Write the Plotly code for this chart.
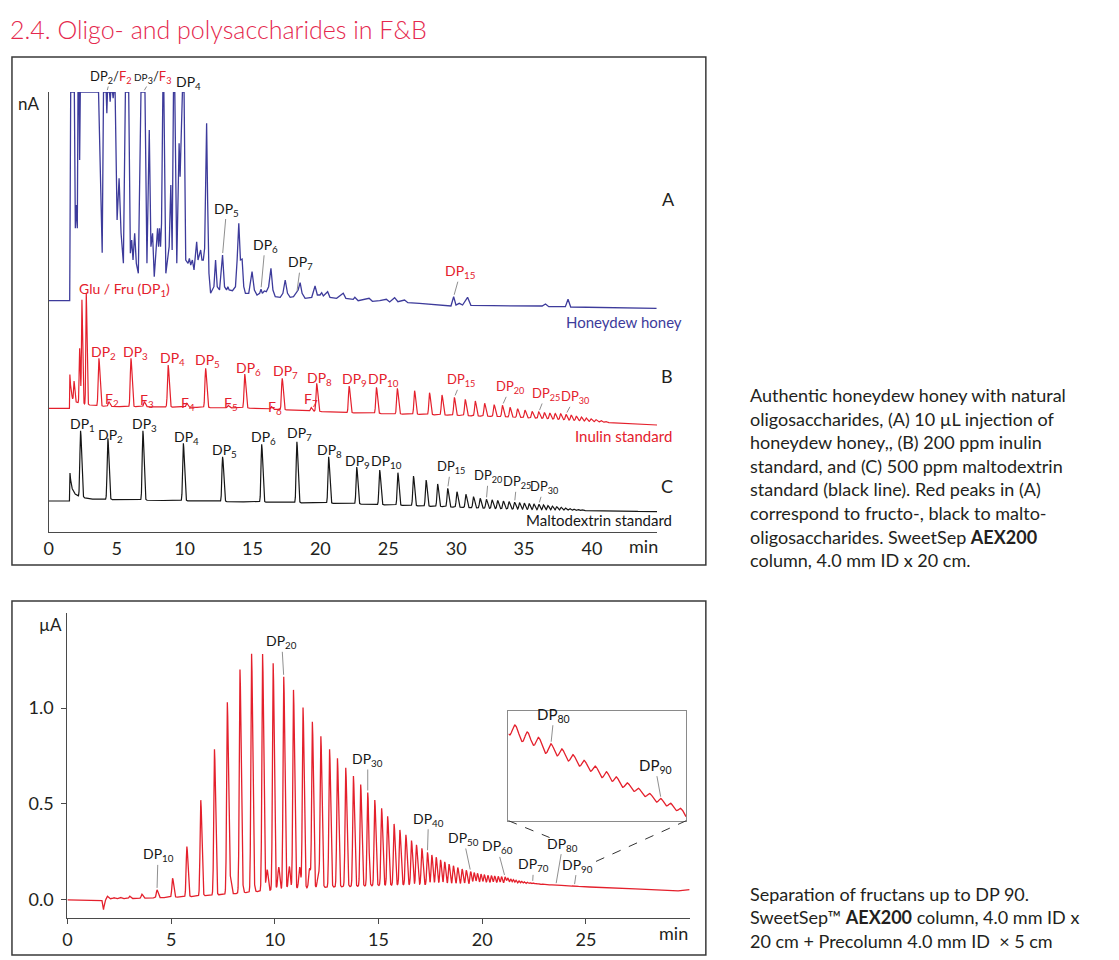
import numpy as np
import plotly.graph_objects as go

W, H = 1119, 960
FONT = "Lato"
BLUE = "#3d3b9b"
RED = "#e4202c"
BLACK = "#161616"
TITLE_RED = "#e5284e"
TEXT = "#231f20"
GREY = "#8f8f8f"

# ------------------------------------------------------------------ data
# (A) honeydew honey - digitised trace (time in min, signal in a.u.; detector clips at 440)
honey = [(0.0, 231.3), (1.539, 231.3), (1.612, 440), (1.880, 440), (1.954, 303.7), (2.027, 327),
         (2.100, 303.7), (2.149, 440), (2.222, 440), (2.271, 372), (2.320, 440), (3.663, 440),
         (3.932, 279.3), (4.029, 440), (4.225, 440), (4.274, 418.7), (4.322, 440), (4.469, 440),
         (4.518, 430.3), (4.567, 440), (4.689, 440), (4.738, 433.7), (4.786, 440), (4.884, 440),
         (5.030, 312), (5.177, 353.7), (5.323, 298.7), (5.494, 268.7), (5.641, 440), (5.885, 440),
         (6.007, 278.7), (6.105, 292), (6.203, 272), (6.325, 298.7), (6.447, 268.7), (6.594, 258.7),
         (6.789, 440), (7.082, 440), (7.228, 268.7), (7.399, 402), (7.521, 285.3), (7.643, 298.7),
         (7.766, 255.3), (8.010, 303.7), (8.083, 285.3), (8.156, 303.7), (8.230, 285.3), (8.303, 308.7),
         (8.400, 440), (8.474, 440), (8.620, 258.7), (8.865, 285.3), (8.987, 347), (9.084, 282),
         (9.182, 440), (9.280, 440), (9.426, 268.7), (9.524, 338.7), (9.597, 388.7), (9.670, 355.3),
         (9.744, 400.3), (9.841, 440), (9.963, 440), (10.085, 272), (10.256, 268.7), (10.354, 273.7),
         (10.452, 267), (10.574, 272), (10.696, 262), (10.891, 290.3), (10.989, 272), (11.087, 277),
         (11.184, 282), (11.282, 272), (11.380, 272), (11.477, 283.7), (11.551, 338.7), (11.624, 408.7),
         (11.697, 332), (11.795, 258.7), (11.917, 238.7), (12.161, 245.3), (12.283, 272), (12.405, 245.3),
         (12.576, 242), (12.796, 277), (12.943, 245.3), (13.089, 242), (13.187, 245.3), (13.284, 242),
         (13.529, 241.3), (13.748, 245.3), (13.870, 272), (13.993, 308.7), (14.115, 272), (14.237, 273),
         (14.359, 245.3), (14.481, 238.7), (14.725, 238.7), (14.970, 260.3), (15.141, 242), (15.336, 237),
         (15.531, 238.7), (15.629, 242.7), (15.727, 238.7), (15.873, 241), (16.020, 240.3), (16.190, 245.3),
         (16.362, 263.7), (16.508, 242), (16.679, 235.3), (17.045, 234.7), (17.241, 238.7), (17.411, 252),
         (17.582, 238.7), (17.778, 234.7), (18.022, 235.3), (18.266, 239.3), (18.364, 242), (18.510, 249.3),
         (18.657, 238.7), (18.877, 233.7), (19.365, 234.7), (19.609, 246), (19.780, 237), (19.976, 237),
         (20.098, 239.3), (20.220, 236), (20.537, 240.3), (20.708, 234.7), (21.197, 233.7), (21.685, 238.7),
         (21.880, 233.7), (22.418, 232.7), (22.540, 234.7), (22.784, 231.3), (23.590, 233.7), (23.834, 230.7),
         (24.371, 231.3), (24.860, 232.7), (25.104, 230), (25.470, 234.3), (25.714, 230.3), (26.200, 232),
         (26.447, 229.3), (27.302, 228.7), (28.034, 228), (28.767, 227), (29.620, 226), (29.817, 235.3),
         (29.988, 227), (30.232, 228.7), (30.476, 227), (30.843, 234.7), (31.087, 226.7), (32.674, 226.3),
         (36.337, 226), (36.581, 228), (36.825, 225.3), (38.046, 225.3), (38.242, 232.7), (38.437, 225),
         (40.000, 224.7), (44.762, 223.7)]

# (B) inulin standard - peak apexes (min, a.u.) and baseline
inulin_dp = list(range(2, 39))
inulin_dp_t = [3.69, 6.05, 8.79, 11.55, 14.43, 17.19, 19.73, 22.12, 24.13, 25.67, 26.94, 28.04, 28.96,
               29.87, 30.67, 31.41, 32.10, 32.80, 33.41, 33.97, 34.53, 35.07, 35.60, 36.09, 36.50, 36.90,
               37.30, 37.70, 38.09, 38.47, 38.85, 39.22, 39.58, 39.94, 40.30, 40.65, 41.00]
inulin_dp_top = [173.7, 173.7, 167, 163.7, 158, 153.7, 148.7, 146, 144.7, 143.7, 141.3, 139.3, 137,
                 134.7, 132.7, 131, 128.7, 127.3, 126.7, 124.7, 123.3, 122, 120.7, 120, 119.5, 119,
                 118.5, 118.2, 117.7, 117, 116, 115, 114, 113.2, 112.4, 111.6, 110.8]
inulin_f_t = [4.42, 7.03, 10.16, 13.21, 16.39, 19.32]          # F2 ... F7
inulin_f_top = [130.3, 130.3, 128.7, 126.5, 125.5, 124.5]
inulin_mono_t = [1.86, 2.27, 2.44, 2.76]                       # Glu / Fru region
inulin_mono_top = [151, 183.7, 232, 239]
inulin_base_t = [0, 1.52, 1.55, 1.62, 1.75, 2.0, 2.2, 3.0, 3.5, 5, 7, 14.5, 21.7, 29.0, 33.4, 36.1, 38.1, 40.0, 44.8]
inulin_base_v = [123.7, 123.7, 158, 143, 133, 130, 129, 127, 126, 125.3, 125.3, 124, 119.3, 117, 115.3,
                 113.7, 112, 110.3, 107]

# (C) maltodextrin standard
malto_dp = list(range(1, 41))
malto_t = [2.34, 4.35, 6.93, 9.91, 12.80, 15.68, 18.27, 20.61, 22.68, 24.37, 25.71, 26.86, 27.79, 28.64,
           29.38, 30.06, 30.72, 31.28, 31.77, 32.23, 32.65, 33.06, 33.48, 33.90, 34.31, 34.67, 35.02,
           35.38, 35.73, 36.09, 36.43, 36.76, 37.09, 37.41, 37.73, 38.04, 38.35, 38.65, 38.95, 39.25]
malto_top = [101.3, 93.7, 101.3, 88.7, 75.3, 87.7, 90.3, 75.3, 65, 62, 59.3, 56, 52, 48, 43.7, 40.3,
             37.7, 35.3, 33.7, 32.7, 32.1, 31.5, 30.9, 30.3, 29.7, 29.3, 28.9, 28.5, 28.1, 27.7, 27.1,
             26.5, 25.9, 25.3, 24.7, 24.1, 23.6, 23.1, 22.7, 22.4]
malto_base_t = [0, 1.52, 1.56, 1.65, 1.85, 2.2, 3.0, 6.0, 10.7, 21.7, 29.0, 32.2, 36.1, 44.8]
malto_base_v = [31, 31, 59, 46, 39, 35.5, 33, 32, 31, 28.5, 25.3, 23.7, 22, 20.3]

# Fructans up to DP 90 (µA): peak times (min) and heights above baseline
fructan_dp = list(range(5, 93))
fructan_t = [1.92, 2.24, 2.56, 3.00, 3.59, 4.32,
             5.07, 5.76, 6.43, 7.09, 7.71, 8.32, 8.88, 9.41, 9.92, 10.43,
             10.90, 11.36, 11.81, 12.22, 12.64, 13.02, 13.42, 13.79, 14.14, 14.48,
             14.82, 15.15, 15.44, 15.75, 16.03, 16.32, 16.59, 16.83, 17.09, 17.36,
             17.57, 17.78, 17.99, 18.19, 18.40, 18.61, 18.82, 19.03, 19.23, 19.44,
             19.61, 19.77, 19.94, 20.10, 20.27, 20.44, 20.60, 20.77, 20.93, 21.10,
             21.23, 21.37, 21.50, 21.63, 21.77, 21.90, 22.03, 22.17, 22.30, 22.43,
             22.55, 22.67, 22.79, 22.91, 23.03, 23.15, 23.26, 23.36, 23.45, 23.55,
             23.64, 23.73, 23.82, 23.91, 24.00, 24.08, 24.17, 24.26, 24.35, 24.44, 24.52, 24.60]
fructan_h = [0.014, 0.006, 0.007, 0.013, 0.021, 0.041,
             0.099, 0.261, 0.499, 0.760, 1.000, 1.163, 1.240, 1.235, 1.182, 1.108,
             1.037, 0.942, 0.865, 0.787, 0.719, 0.670, 0.619, 0.575, 0.530, 0.487,
             0.446, 0.402, 0.360, 0.319, 0.287, 0.261, 0.231, 0.209, 0.191, 0.170,
             0.156, 0.144, 0.130, 0.120, 0.108, 0.099, 0.090, 0.082, 0.075, 0.069,
             0.063, 0.059, 0.055, 0.052, 0.049, 0.047, 0.045, 0.043, 0.041, 0.040,
             0.034, 0.029, 0.025, 0.022, 0.019, 0.016, 0.014, 0.012, 0.010, 0.009,
             0.0075, 0.0062, 0.0050, 0.0040, 0.0032, 0.0026, 0.0022, 0.0020, 0.0019, 0.0018,
             0.0017, 0.0016, 0.0015, 0.0014, 0.0013, 0.0012, 0.0011, 0.0010, 0.00095, 0.0009, 0.00085, 0.0008]
shoulder_t = [7.86, 8.43, 8.99, 9.63, 10.19, 10.70, 11.20, 11.68, 12.10]
shoulder_h = [0.08, 0.04, 0.03, 0.11, 0.118, 0.118, 0.112, 0.103, 0.08]
fructan_base_t = [0, 1.66, 1.74, 1.80, 1.9, 3.0, 4.5, 6.0, 7.0, 8.0, 9.0, 10.0, 11.0, 12.0, 13.0, 14.5,
                  16.0, 21.5, 22.4, 23.5, 24.5, 25.5, 27.5, 29.4, 30.0]
fructan_base_v = [0, 0, -0.05, -0.005, 0.006, 0.007, 0.012, 0.018, 0.025, 0.032, 0.042, 0.052, 0.058,
                  0.063, 0.068, 0.073, 0.078, 0.080, 0.080, 0.0755, 0.071, 0.066, 0.057, 0.047, 0.054]

# ------------------------------------------------------------------ helpers
def peaks(t, pk_t, pk_h, smax, asym=(0.85, 1.25)):
    pk_t = np.asarray(pk_t, float)
    pk_h = np.asarray(pk_h, float)
    if len(pk_t) > 1:
        d = np.diff(pk_t)
        sp = np.minimum(np.r_[d[0], d], np.r_[d, d[-1]])
        s = np.minimum(smax, 0.3 * sp)
    else:
        s = np.full(len(pk_t), smax)
    out = np.zeros_like(t)
    for ti, hi, si in zip(pk_t, pk_h, s):
        dt = t - ti
        m = np.abs(dt) < 10 * si
        sg = np.where(dt[m] < 0, si * asym[0], si * asym[1])
        out[m] += hi * np.exp(-0.5 * (dt[m] / sg) ** 2)
    return out


def apex_peaks(t, pk_t, pk_top, bt, bv, smax):
    h = np.asarray(pk_top, float) - np.interp(pk_t, bt, bv)
    return peaks(t, pk_t, h, smax)


def P(x):
    return x / W


def Q(y):
    return 1 - y / H


# ------------------------------------------------------------------ curves
tg = np.arange(0, 44.8, 0.004)
honey_t = [p[0] for p in honey]
honey_v = [p[1] for p in honey]
inulin = (np.interp(tg, inulin_base_t, inulin_base_v)
          + apex_peaks(tg, inulin_dp_t, inulin_dp_top, inulin_base_t, inulin_base_v, 0.06)
          + apex_peaks(tg, inulin_f_t, inulin_f_top, inulin_base_t, inulin_base_v, 0.06)
          + apex_peaks(tg, inulin_mono_t, inulin_mono_top, inulin_base_t, inulin_base_v, 0.04))
malto = (np.interp(tg, malto_base_t, malto_base_v)
         + apex_peaks(tg, malto_t, malto_top, malto_base_t, malto_base_v, 0.06))

tb = np.arange(0, 30.0001, 0.002)
fructan = (np.interp(tb, fructan_base_t, fructan_base_v)
           + peaks(tb, fructan_t, fructan_h, 0.04)
           + peaks(tb, shoulder_t, shoulder_h, 0.045, asym=(1, 1)))

ix0, ix1 = 23.206, 24.644
win = (tb >= ix0) & (tb <= ix1)
ymin, ymax = fructan[win].min(), fructan[win].max()
span = ymax - ymin
inset_range = [ymin - 0.044 * span, ymax + 0.153 * span]

fig = go.Figure()
fig.add_trace(go.Scatter(x=honey_t, y=honey_v, mode="lines", line=dict(color=BLUE, width=1.3),
                         xaxis="x", yaxis="y", hoverinfo="skip"))
fig.add_trace(go.Scatter(x=tg, y=inulin, mode="lines", line=dict(color=RED, width=1.2),
                         xaxis="x", yaxis="y", hoverinfo="skip"))
fig.add_trace(go.Scatter(x=tg, y=malto, mode="lines", line=dict(color=BLACK, width=1.2),
                         xaxis="x", yaxis="y", hoverinfo="skip"))
fig.add_trace(go.Scatter(x=tb, y=fructan, mode="lines", line=dict(color=RED, width=1.3),
                         xaxis="x2", yaxis="y2", hoverinfo="skip"))
fig.add_trace(go.Scatter(x=tb[win], y=fructan[win], mode="lines", line=dict(color=RED, width=1.3),
                         xaxis="x3", yaxis="y3", hoverinfo="skip"))

AX = dict(showgrid=False, zeroline=False, showline=True, linecolor="#4a4a4a", linewidth=1.3,
          tickfont=dict(family=FONT, size=18, color=TEXT))

annotations = []


def txt(text, x, y, size=14, color=BLACK, xanchor="center", **kw):
    annotations.append(dict(text=text, x=P(x), y=Q(y), xref="paper", yref="paper", showarrow=False,
                            xanchor=xanchor, yanchor="middle",
                            font=dict(family=FONT, size=size, color=color, **kw)))


def lead(text, x, y, ax, ay, xr="x", yr="y", size=14, color=BLACK):
    annotations.append(dict(text=text, x=x, y=y, xref=xr, yref=yr, ax=ax, ay=ay, showarrow=True,
                            arrowhead=0, arrowwidth=1, arrowcolor=GREY, standoff=2, borderpad=0,
                            font=dict(family=FONT, size=size, color=color)))


def at(tt, vv, x):
    return float(np.interp(x, tt, vv))


def sub(n):
    return "DP<sub>%d</sub>" % n


# title and captions
txt("2.4. Oligo- and polysaccharides in F&B", 3, 29, size=25, color=TITLE_RED, xanchor="left", weight=300)
cap1 = ["Authentic honeydew honey with natural",
        "oligosaccharides, (A) 10 µL injection of",
        "honeydew honey,, (B) 200 ppm inulin",
        "standard, and (C) 500 ppm maltodextrin",
        "standard (black line). Red peaks in (A)",
        "correspond to fructo-, black to malto-",
        "oligosaccharides. SweetSep <b>AEX200</b>",
        "column, 4.0 mm ID x 20 cm."]
for i, line in enumerate(cap1):
    txt(line, 746, 395 + i * 23.6, size=18, color=TEXT, xanchor="left")
cap2 = ["Separation of fructans up to DP 90.",
        "SweetSep™ <b>AEX200</b> column, 4.0 mm ID x",
        "20 cm + Precolumn 4.0 mm ID  × 5 cm"]
for i, line in enumerate(cap2):
    txt(line, 746, 893.5 + i * 23.6, size=18, color=TEXT, xanchor="left")

# top panel text
txt("nA", 23.5, 103, size=17, color=TEXT)
txt("min", 641, 546, size=18, color=TEXT)
txt("A", 666, 199, size=18, color=TEXT)
txt("B", 665, 376, size=18, color=TEXT)
txt("C", 665, 486, size=18, color=TEXT)
txt("Honeydew honey", 562, 322, size=15, color=BLUE, xanchor="left")
txt("Inulin standard", 571, 436, size=15, color=RED, xanchor="left")
txt("Maltodextrin standard", 521, 520, size=15, color=BLACK, xanchor="left")
txt("Glu / Fru (DP<sub>1</sub>)", 120.5, 289, size=14, color=RED)
txt("DP<sub>4</sub>", 184, 82, size=14)
lead("DP<sub>2</sub>/<span style='color:%s'>F<sub>2</sub></span>" % RED, 4.27, 440, 4, -15, size=13)
lead("<span style='font-size:10px'>DP</span><sub>3</sub>/<span style='color:%s'>F<sub>3</sub></span>" % RED,
     6.96, 440, 9, -15, size=13)
lead(sub(5), 12.796, at(honey_t, honey_v, 12.796), 4, -46)
lead(sub(6), 15.629, at(honey_t, honey_v, 15.629), 4, -44)
lead(sub(7), 18.266, at(honey_t, honey_v, 18.266), 4, -30)
lead(sub(15), 29.817, at(honey_t, honey_v, 29.817), 7, -25, color=RED)

# inulin labels
for n, x, y in [(2, 98.5, 352), (3, 131, 352), (4, 168, 358), (5, 203.5, 361), (6, 245, 368),
                (7, 282, 372), (8, 316, 378), (9, 351, 379), (10, 380.5, 379)]:
    txt(sub(n), x, y, color=RED)
for n, x, y in [(2, 107.5, 399), (3, 142.5, 400), (4, 183.5, 403), (5, 227.5, 403), (6, 271.5, 407),
                (7, 307.5, 399)]:
    txt("F<sub>%d</sub>" % n, x, y, color=RED)
for n, ax, ay in [(15, 7, -17), (20, 8, -18), (25, 7, -18), (30, 9, -17)]:
    t0 = inulin_dp_t[inulin_dp.index(n)]
    lead(sub(n), t0, at(tg, inulin, t0), ax, ay, color=RED, size=13)

# maltodextrin labels
for n, x, y in [(1, 77.5, 425), (2, 105.5, 435), (3, 140.5, 425), (4, 182, 437), (5, 220.5, 450),
                (6, 260, 437), (7, 295.5, 433), (8, 326, 450), (9, 354, 462), (10, 383.5, 462)]:
    txt(sub(n), x, y)
for n, ax, ay in [(15, 3, -21), (20, 2, -23), (25, 2, -20), (30, 5, -17)]:
    t0 = malto_t[malto_dp.index(n)]
    lead(sub(n), t0, at(tg, malto, t0), ax, ay, size=13)

# bottom panel labels
txt("µA", 46, 624, size=17, color=TEXT)
txt("min", 672, 933, size=18, color=TEXT)
for n, ax, ay in [(10, 1, -35), (20, -2, -35), (30, 0, -33), (40, 1, -33), (50, -7, -33),
                  (60, -8, -30), (70, 1, -18), (80, 7, -41), (90, 3, -21)]:
    t0 = fructan_t[fructan_dp.index(n)]
    lead(sub(n), t0, at(tb, fructan, t0), ax, ay, xr="x2", yr="y2", size=14)
for n, ax, ay in [(80, 3, -29), (90, -6, -33)]:
    t0 = fructan_t[fructan_dp.index(n)]
    lead(sub(n), t0, at(tb, fructan, t0), ax, ay, xr="x3", yr="y3", size=15)

shapes = [
    dict(type="rect", xref="paper", yref="paper", x0=P(7), x1=P(704), y0=Q(565), y1=Q(57),
         line=dict(color="#3a3a3a", width=1.5)),
    dict(type="rect", xref="paper", yref="paper", x0=P(7), x1=P(704), y0=Q(955), y1=Q(601),
         line=dict(color="#3a3a3a", width=1.5)),
    dict(type="line", xref="paper", yref="paper", x0=P(505.7), y0=Q(820.7), x1=P(547), y1=Q(837.5),
         line=dict(color="#333", width=1, dash="dash")),
    dict(type="line", xref="paper", yref="paper", x0=P(684.3), y0=Q(820.7), x1=P(589), y1=Q(863.5),
         line=dict(color="#333", width=1, dash="dash")),
]

fig.update_layout(
    width=W, height=H, margin=dict(l=0, r=0, t=0, b=0), showlegend=False,
    paper_bgcolor="white", plot_bgcolor="rgba(0,0,0,0)",
    font=dict(family=FONT, color=TEXT),
    xaxis=dict(AX, domain=[P(44), P(655)], range=[0, 44.8], anchor="y", ticks="",
               tickvals=[0, 5, 10, 15, 20, 25, 30, 35, 40]),
    yaxis=dict(AX, domain=[Q(532), Q(92)], range=[0, 440], anchor="x", ticks="", showticklabels=False),
    xaxis2=dict(AX, domain=[P(62.7), P(687.7)], range=[0, 30], anchor="y2", ticks="outside", ticklen=5,
                tickcolor="#4a4a4a", tickvals=[0, 5, 10, 15, 20, 25]),
    yaxis2=dict(AX, domain=[Q(918), Q(613)], range=[-0.094, 1.495], anchor="x2", ticks="outside",
                ticklen=5, tickcolor="#4a4a4a", tickvals=[0, 0.5, 1.0], ticktext=["0.0", "0.5", "1.0"],
                ticklabelstandoff=4),
    xaxis3=dict(domain=[P(505.7), P(684.3)], range=[ix0, ix1], anchor="y3", showgrid=False, zeroline=False,
                showline=True, mirror=True, linecolor="#8a8a8a", linewidth=1.2, showticklabels=False, ticks=""),
    yaxis3=dict(domain=[Q(820.7), Q(711)], range=inset_range, anchor="x3", showgrid=False, zeroline=False,
                showline=True, mirror=True, linecolor="#8a8a8a", linewidth=1.2, showticklabels=False, ticks=""),
    annotations=annotations, shapes=shapes,
)

fig.write_html("out.html", config={"displayModeBar": False},
               post_script="document.body.style.margin='0';document.body.style.padding='0';")
